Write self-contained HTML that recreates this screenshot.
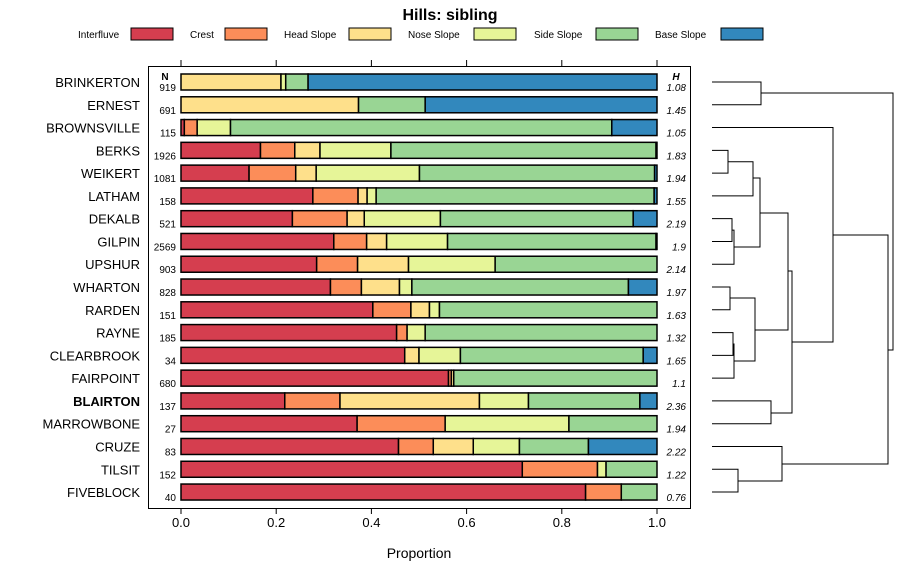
<!DOCTYPE html>
<html><head><meta charset="utf-8"><style>
body{margin:0;background:#fff;}
svg{font-family:"Liberation Sans",sans-serif;}
</style></head><body>
<svg id="c" width="900" height="580"></svg>
<script>
const series=["Interfluve","Crest","Head Slope","Nose Slope","Side Slope","Base Slope"];
const colors=["#d53e4f","#fc8d59","#fee08b","#e6f598","#99d594","#3288bd"];
const soils=["BRINKERTON","ERNEST","BROWNSVILLE","BERKS","WEIKERT","LATHAM","DEKALB","GILPIN","UPSHUR","WHARTON","RARDEN","RAYNE","CLEARBROOK","FAIRPOINT","BLAIRTON","MARROWBONE","CRUZE","TILSIT","FIVEBLOCK"];
const nVals=[919,691,115,1926,1081,158,521,2569,903,828,151,185,34,680,137,27,83,152,40];
const hVals=["1.08","1.45","1.05","1.83","1.94","1.55","2.19","1.9","2.14","1.97","1.63","1.32","1.65","1.1","2.36","1.94","2.22","1.22","0.76"];
// proportions per class: Interfluve, Crest, Head, Nose, Side, Base
const interfluve=[0,0,0.007,0.167,0.143,0.277,0.234,0.321,0.285,0.314,0.403,0.453,0.47,0.562,0.218,0.37,0.457,0.717,0.85];
const crest=[0,0,0.027,0.072,0.098,0.095,0.115,0.069,0.086,0.065,0.08,0.022,0,0.006,0.116,0.185,0.073,0.158,0.075];
const headSlope=[0.21,0.373,0,0.053,0.043,0.019,0.036,0.042,0.107,0.08,0.039,0,0.03,0.005,0.293,0,0.084,0,0];
const noseSlope=[0.01,0,0.07,0.149,0.217,0.019,0.16,0.128,0.182,0.026,0.021,0.038,0.087,0,0.103,0.26,0.097,0.018,0];
const sideSlope=[0.047,0.14,0.801,0.557,0.494,0.584,0.405,0.438,0.34,0.455,0.457,0.487,0.384,0.427,0.234,0.185,0.145,0.107,0.075];
const baseSlope=[0.733,0.487,0.095,0.002,0.005,0.006,0.05,0.002,0,0.06,0,0,0.029,0,0.036,0,0.144,0,0];
const ticks=[0,0.2,0.4,0.6,0.8,1.0];
const tickLabels=["0.0","0.2","0.4","0.6","0.8","1.0"];
const NS="http://www.w3.org/2000/svg";
const svg=document.getElementById('c');
function mk(tag,attrs,parent){const e=document.createElementNS(NS,tag);for(const k in attrs)e.setAttribute(k,attrs[k]);(parent||svg).appendChild(e);return e;}
const x0=181,x1=657;
const xs=v=>x0+v*(x1-x0);
const rowY=i=>82+i*22.78;
// title
let t=mk('text',{x:450,y:20,'text-anchor':'middle','font-size':16,'font-weight':'bold'});t.textContent="Hills: sibling";


// legend
const legTx=[78,190,284,408,534,655],legBx=[131,225,349,474,596,721];
series.forEach((s,i)=>{
 const g=mk('g',{});
 
 
 const tt=mk('text',{x:legTx[i],y:38,'font-size':10},g);tt.textContent=s;
 mk('rect',{x:legBx[i],y:28,width:42,height:12,fill:colors[i],stroke:'#000','stroke-width':1},g);
});
// panel
const panel=mk('rect',{x:148.5,y:66.5,width:542,height:442,fill:'none',stroke:'#000'});


ticks.forEach((v,i)=>{
 const x=xs(v);
 mk('line',{x1:x,x2:x,y1:508,y2:514,stroke:'#000'});
 mk('line',{x1:x,x2:x,y1:60,y2:66,stroke:'#000'});
 const tl=mk('text',{x:x,y:527,'text-anchor':'middle','font-size':13});tl.textContent=tickLabels[i];
 
 
});
let xt=mk('text',{x:419,y:558,'text-anchor':'middle','font-size':14});xt.textContent="Proportion";


let nh=mk('text',{x:165,y:80,'text-anchor':'middle','font-size':10,'font-weight':'bold'});nh.textContent="N";


let hh=mk('text',{x:676,y:80,'text-anchor':'middle','font-size':10,'font-weight':'bold','font-style':'italic'});hh.textContent="H";


const data=[interfluve,crest,headSlope,noseSlope,sideSlope,baseSlope];
soils.forEach((s,i)=>{
 const y=rowY(i);
 const lab=mk('text',{x:140,y:y+5,'text-anchor':'end','font-size':13,'font-weight':s==="BLAIRTON"?'bold':'normal'});lab.textContent=s;
 
 
 const nl=mk('text',{x:176,y:y+9,'text-anchor':'end','font-size':10});nl.textContent=nVals[i];
 
 
 const hl=mk('text',{x:686,y:y+9,'text-anchor':'end','font-size':10,'font-style':'italic'});hl.textContent=hVals[i];
 
 
 let cum=0;
 data.forEach((arr,k)=>{
  const v=arr[i]; if(v<=0)return;
  const r=mk('rect',{x:xs(cum),y:y-8,width:xs(cum+v)-xs(cum),height:16,fill:colors[k],stroke:'#000','stroke-width':1.5});
  
  
  cum+=v;
 });
});
// dendrogram
const dg=mk('g',{fill:'none',stroke:'#000','stroke-width':1});


const L=712;
function br(xa,ya,xb,yb,xn){mk('path',{d:`M${xa},${ya}H${xn}V${yb}H${xb}`},dg);}
const Y=i=>rowY(i);
br(L,Y(0),L,Y(1),761);
br(L,Y(3),L,Y(4),728);
br(728,(Y(3)+Y(4))/2,L,Y(5),753);
br(L,Y(6),L,Y(7),732);
br(732,(Y(6)+Y(7))/2,L,Y(8),734);
br(753,178,734,247,760);
br(L,Y(9),L,Y(10),730);
br(L,Y(11),L,Y(12),733);
br(733,(Y(11)+Y(12))/2,L,Y(13),734);
br(730,298,734,361,755);
br(760,213,755,330,788);
br(L,Y(14),L,Y(15),771);
br(788,271,771,413,792);
br(L,Y(2),792,342,833);
br(L,Y(17),L,Y(18),738);
br(L,Y(16),738,481,782);
br(833,235,782,464,888);
br(761,93,888,350,893);
</script>
</body></html>
